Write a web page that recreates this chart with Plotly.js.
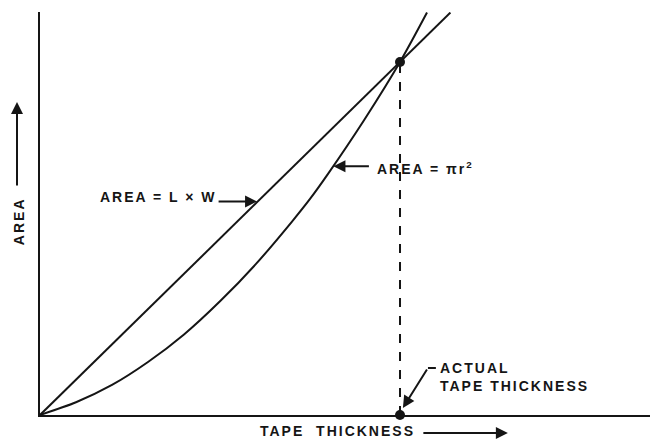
<!DOCTYPE html>
<html>
<head>
<meta charset="utf-8">
<script src="https://cdn.plot.ly/plotly-3.0.1.min.js"></script>
<style>
  html, body { margin: 0; padding: 0; background: #fff; }
  #chart { width: 654px; height: 440px; }
  .annotation-text { letter-spacing: 2px; }
</style>
</head>
<body>
<div id="chart"></div>
<script>
// Tape thickness (relative units; 1 = actual tape thickness)
const thicknessRect = [0, 1.0, 1.14];
const areaRect = [0, 1.0, 1.14];            // AREA = L x W

const thicknessRound = [0, 0.1, 0.2, 0.3, 0.4, 0.5, 0.6, 0.7, 0.75, 0.8, 0.9, 1.0, 1.075];
const areaRound = [0, 0.036, 0.085, 0.150, 0.228, 0.322, 0.428, 0.548, 0.612, 0.683, 0.835, 1.0, 1.14]; // AREA = pi r^2

const actualThickness = [1.0];
const crossingArea = [1.0];

const ink = '#151515';
const font = { family: 'Liberation Sans, Arial, sans-serif', size: 14, color: ink, weight: 'bold' };

const traces = [
  { x: thicknessRect, y: areaRect, mode: 'lines', line: { color: ink, width: 2 }, hoverinfo: 'skip' },
  { x: thicknessRound, y: areaRound, mode: 'lines', line: { color: ink, width: 2, shape: 'spline', smoothing: 0.8 }, hoverinfo: 'skip' },
  { x: actualThickness, y: crossingArea, mode: 'markers', marker: { color: ink, size: 10 }, hoverinfo: 'skip', cliponaxis: false },
  { x: actualThickness, y: [0], mode: 'markers', marker: { color: ink, size: 10 }, hoverinfo: 'skip', cliponaxis: false }
];

const layout = {
  width: 654, height: 440,
  margin: { l: 40, r: 4, t: 12, b: 25 },
  paper_bgcolor: '#fff', plot_bgcolor: '#fff',
  showlegend: false,
  xaxis: { range: [0, 1.6944], showline: true, linecolor: ink, linewidth: 2, showgrid: false, zeroline: false, showticklabels: false, ticks: '', fixedrange: true },
  yaxis: { range: [0, 1.1416], showline: true, linecolor: ink, linewidth: 2, showgrid: false, zeroline: false, showticklabels: false, ticks: '', fixedrange: true },
  shapes: [
    // dashed drop line from the crossing point to the thickness axis
    { type: 'line', xref: 'x', yref: 'y', x0: actualThickness[0], x1: actualThickness[0], y0: 0, y1: crossingArea[0], line: { color: ink, width: 2, dash: 'dash' } },
    // short lead-in for the "ACTUAL TAPE THICKNESS" pointer
    { type: 'line', xref: 'paper', yref: 'paper', x0: 0.636, x1: 0.649, y0: 0.1166, y1: 0.1166, line: { color: ink, width: 2 } }
  ],
  annotations: [
    // axis labels and their arrows
    { xref: 'paper', yref: 'paper', x: -0.0344, y: 0.481, text: 'AREA', textangle: -90, showarrow: false, font: font, xanchor: 'center', yanchor: 'middle' },
    { xref: 'paper', yref: 'paper', x: -0.0377, y: 0.7767, text: '', showarrow: true, ax: 0, ay: 85, arrowhead: 2, arrowsize: 1.2, arrowwidth: 2, arrowcolor: ink },
    { xref: 'paper', yref: 'paper', x: 0.4885, y: -0.0385, text: 'TAPE  THICKNESS', showarrow: false, font: font, xanchor: 'center', yanchor: 'middle' },
    { xref: 'paper', yref: 'paper', x: 0.767, y: -0.0446, text: '', showarrow: true, ax: -86, ay: 0, arrowhead: 2, arrowsize: 1.2, arrowwidth: 2, arrowcolor: ink },

    // curve labels
    { xref: 'paper', yref: 'paper', x: (98 - 40) / 610, y: (415 - 197.5) / 403, text: 'AREA = L × W', showarrow: false, font: font, xanchor: 'left', yanchor: 'middle' },
    { xref: 'x', yref: 'y', x: 0.603, y: 0.605, text: '', showarrow: true, ax: -40, ay: 0, arrowhead: 2, arrowsize: 1.2, arrowwidth: 2, arrowcolor: ink },
    { xref: 'paper', yref: 'paper', x: (375 - 40) / 610, y: (415 - 168.5) / 403, text: 'AREA = πr<sup>2</sup>', showarrow: false, font: font, xanchor: 'left', yanchor: 'middle' },
    { xref: 'x', yref: 'y', x: 0.815, y: 0.705, text: '', showarrow: true, ax: 37, ay: 0, arrowhead: 2, arrowsize: 1.2, arrowwidth: 2, arrowcolor: ink },

    // actual thickness callout
    { xref: 'paper', yref: 'paper', x: (438 - 40) / 610, y: (415 - 376.5) / 403, text: 'ACTUAL<br>TAPE THICKNESS', showarrow: false, font: font, xanchor: 'left', yanchor: 'middle', align: 'left' },
    { xref: 'x', yref: 'y', x: 1.008, y: 0.02, text: '', showarrow: true, ax: 25, ay: -40, arrowhead: 2, arrowsize: 1.2, arrowwidth: 2, arrowcolor: ink }
  ]
};

Plotly.newPlot('chart', traces, layout, { staticPlot: true, displayModeBar: false });
</script>
</body>
</html>
